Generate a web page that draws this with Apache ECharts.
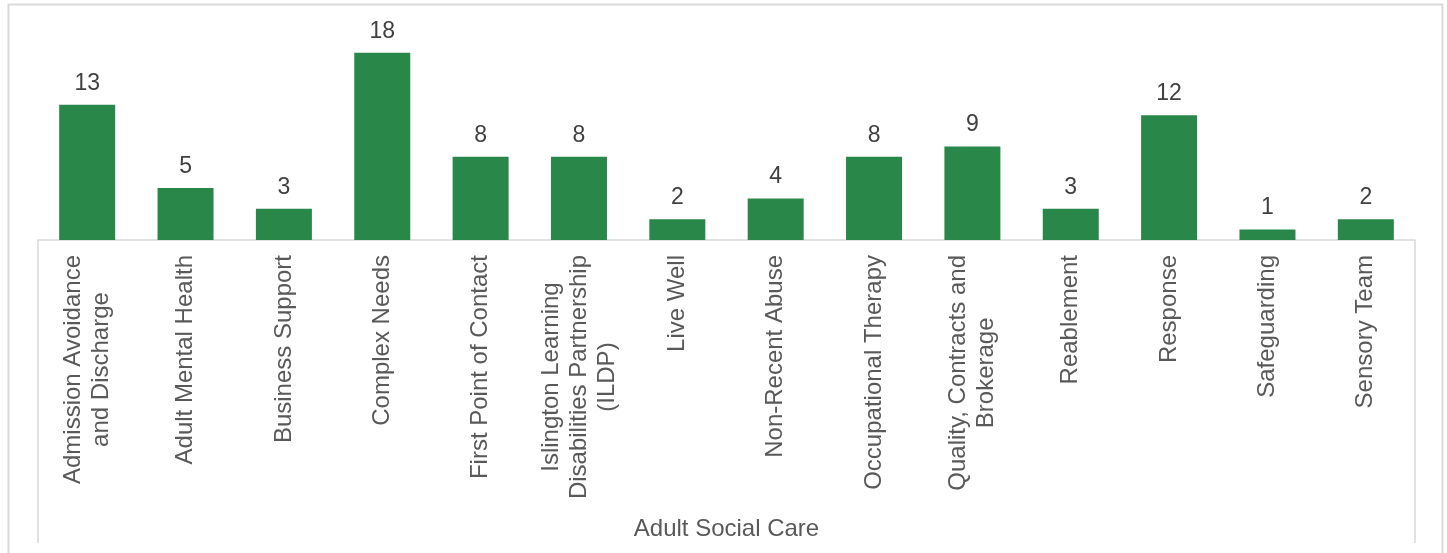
<!DOCTYPE html>
<html>
<head>
<meta charset="utf-8">
<title>Adult Social Care</title>
<script src="https://cdn.jsdelivr.net/npm/echarts@6/dist/echarts.min.js"></script>
<style>
  html, body { margin: 0; padding: 0; background: #fff; }
  #chart { width: 1447px; height: 553px; }
</style>
</head>
<body>
<div id="chart"></div>
<script>
// team names (line breaks as in the original labels)
const teams = [
  "Admission Avoidance\nand Discharge",
  "Adult Mental Health",
  "Business Support",
  "Complex Needs",
  "First Point of Contact",
  "Islington Learning\nDisabilities Partnership\n(ILDP)",
  "Live Well",
  "Non-Recent Abuse",
  "Occupational Therapy",
  "Quality, Contracts and\nBrokerage",
  "Reablement",
  "Response",
  "Safeguarding",
  "Sensory Team"
];
const counts = [13, 5, 3, 18, 8, 8, 2, 4, 8, 9, 3, 12, 1, 2];
const groups = ["Adult Social Care"];

const FONT = "Liberation Sans, Arial, sans-serif";
const chart = echarts.init(document.getElementById("chart"));

const option = {
  animation: false,
  grid: { left: 38, right: 32, top: 32, bottom: 313 },
  graphic: [
    {
      type: "rect",
      silent: true,
      shape: { x: 8.5, y: 4.5, width: 1434, height: 600 },
      style: { fill: "none", stroke: "#d9d9d9", lineWidth: 2 }
    }
  ],
  xAxis: [
    {
      type: "category",
      data: teams,
      axisLine: { lineStyle: { color: "#d9d9d9", width: 1.5 } },
      axisTick: { show: false },
      axisLabel: {
        interval: 0,
        rotate: 90,
        margin: 15,
        color: "#595959",
        fontFamily: FONT,
        fontSize: 24,
        formatter: v => v.split("\n").map(s => "{c|" + s + "}").join("\n"),
        rich: {
          c: { align: "center", color: "#595959", fontFamily: FONT, fontSize: 24, lineHeight: 28 }
        }
      }
    },
    {
      type: "category",
      data: groups,
      position: "bottom",
      axisLine: { show: false },
      axisTick: { show: true, length: 303, lineStyle: { color: "#d9d9d9", width: 1.5 } },
      axisLabel: {
        margin: 277,
        color: "#595959",
        fontFamily: FONT,
        fontSize: 24
      }
    }
  ],
  yAxis: {
    type: "value",
    min: 0,
    max: 20,
    show: false,
    splitLine: { show: false }
  },
  series: [
    {
      type: "bar",
      data: counts,
      barWidth: 56,
      itemStyle: { color: "#2a874a" },
      label: {
        show: true,
        position: "top",
        distance: 10,
        color: "#404040",
        fontFamily: FONT,
        fontSize: 23
      }
    }
  ]
};

chart.setOption(option);
</script>
</body>
</html>
